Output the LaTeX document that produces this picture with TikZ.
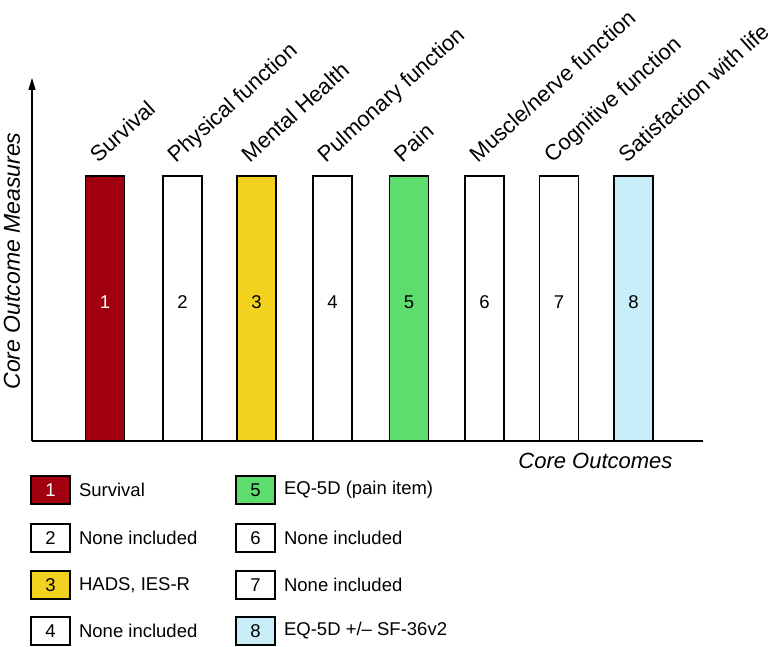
\documentclass[tikz,border=0pt]{standalone}
\usepackage{fontspec}
\setmainfont{Liberation Sans}
\usetikzlibrary{positioning,arrows.meta}
\definecolor{survred}{RGB}{160,0,16}
\definecolor{mentyel}{RGB}{242,210,30}
\definecolor{paingrn}{RGB}{94,220,110}
\definecolor{lifeblu}{RGB}{200,238,250}
\begin{document}
\begin{tikzpicture}[x=1pt,y=1pt,line width=1.1pt,
  bar/.style={draw,minimum width=39pt,minimum height=265pt,inner sep=0pt},
  cat/.style={rotate=42,anchor=base west,inner sep=0pt,font=\fontsize{22}{26}\selectfont},
  num/.style={inner sep=0pt,font=\fontsize{18.5}{22}\selectfont},
  key/.style={draw,minimum width=39pt,minimum height=28pt,inner sep=0pt,font=\fontsize{18.5}{22}\selectfont},
  keytxt/.style={right=8pt of #1,inner sep=0pt,font=\fontsize{18.5}{22}\selectfont}]
\useasboundingbox (0,0) rectangle (775,646);
% axes
\coordinate (orig) at (32,205);
\coordinate (ytop) at (32,568);
\coordinate (xend) at (703,205);
\draw[-{Triangle[length=12pt,width=7pt]}] (orig) -- (ytop);
\draw (orig) -- (xend);
\node[rotate=90,inner sep=0pt,font=\fontsize{23}{26}\selectfont\itshape] (ylab) at (12,385) {Core Outcome Measures};
\node[anchor=east,inner sep=0pt,font=\fontsize{22}{26}\selectfont\itshape] (xlab) at (673,185) {Core Outcomes};
% bars
\node[bar,fill=survred] (b1) at (105,337.5) {};
\node[bar,fill=white] (b2) at (182.5,337.5) {};
\node[bar,fill=mentyel] (b3) at (256.5,337.5) {};
\node[bar,fill=white] (b4) at (332.5,337.5) {};
\node[bar,fill=paingrn] (b5) at (409,337.5) {};
\node[bar,fill=white] (b6) at (484.5,337.5) {};
\node[bar,fill=white] (b7) at (559,337.5) {};
\node[bar,fill=lifeblu] (b8) at (633.5,337.5) {};
\node[num,text=white] (n1) at ([yshift=6.5pt]b1.center) {1};
\node[num] (n2) at ([yshift=6.5pt]b2.center) {2};
\node[num] (n3) at ([yshift=6.5pt]b3.center) {3};
\node[num] (n4) at ([yshift=6.5pt]b4.center) {4};
\node[num] (n5) at ([yshift=6.5pt]b5.center) {5};
\node[num] (n6) at ([yshift=6.5pt]b6.center) {6};
\node[num] (n7) at ([yshift=6.5pt]b7.center) {7};
\node[num] (n8) at ([yshift=6.5pt]b8.center) {8};
% outcome names
\node[cat] (c1) at ([xshift=-7pt,yshift=12pt]b1.north) {Survival};
\node[cat] (c2) at ([xshift=-7pt,yshift=12pt]b2.north) {Physical function};
\node[cat] (c3) at ([xshift=-7pt,yshift=12pt]b3.north) {Mental Health};
\node[cat] (c4) at ([xshift=-7pt,yshift=12pt]b4.north) {Pulmonary function};
\node[cat] (c5) at ([xshift=-7pt,yshift=12pt]b5.north) {Pain};
\node[cat] (c6) at ([xshift=-7pt,yshift=12pt]b6.north) {Muscle/nerve function};
\node[cat] (c7) at ([xshift=-7pt,yshift=12pt]b7.north) {Cognitive function};
\node[cat] (c8) at ([xshift=-7pt,yshift=12pt]b8.north) {Satisfaction with life};
% legend
\node[key,fill=survred,text=white] (k1) at (50.5,156) {1}; \node[keytxt=k1] (t1) {Survival};
\node[key,fill=white] (k2) at (50.5,108) {2}; \node[keytxt=k2] (t2) {None included};
\node[key,fill=mentyel] (k3) at (50.5,61) {3}; \node[keytxt=k3] (t3) {HADS, IES-R};
\node[key,fill=white] (k4) at (50.5,15) {4}; \node[keytxt=k4] (t4) {None included};
\node[key,fill=paingrn] (k5) at (255.5,156) {5}; \node[keytxt=k5] (t5) {EQ-5D (pain item)};
\node[key,fill=white] (k6) at (255.5,108) {6}; \node[keytxt=k6] (t6) {None included};
\node[key,fill=white] (k7) at (255.5,61) {7}; \node[keytxt=k7] (t7) {None included};
\node[key,fill=lifeblu] (k8) at (255.5,15) {8}; \node[keytxt=k8] (t8) {EQ-5D +/-- SF-36v2};
\end{tikzpicture}
\end{document}
